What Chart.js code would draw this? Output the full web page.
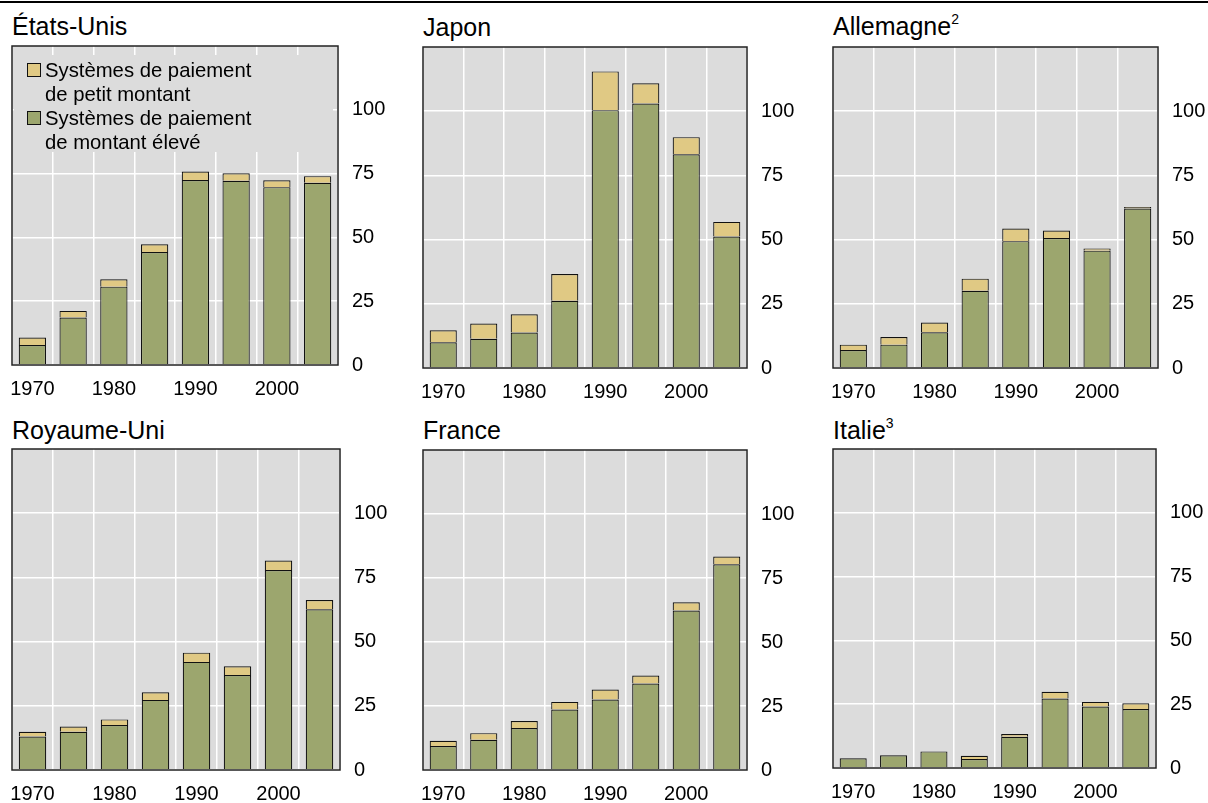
<!DOCTYPE html>
<html>
<head>
<meta charset="utf-8">
<script src="https://cdn.jsdelivr.net/npm/chart.js@4.4.0/dist/chart.umd.min.js"></script>
<style>
  html, body { margin: 0; padding: 0; background: #fff; }
  body { width: 1208px; height: 803px; position: relative; overflow: hidden;
         font-family: "Liberation Sans", Arial, sans-serif; color: #000; }
  .topline { position: absolute; left: 0; top: 1px; width: 1208px; height: 2px; background: #000; }
  .title { position: absolute; font-size: 25px; line-height: 25px; white-space: nowrap; }
  .title sup { font-size: 14px; position: relative; top: -1px; vertical-align: 10px; line-height: 0; }
  canvas { position: absolute; }
  .legbg { position: absolute; left: 14px; top: 55px; width: 319px; height: 97px; background: #dcdcdc; }
  .legend { position: absolute; left: 27px; top: 58px; font-size: 20.3px; line-height: 24px; }
  .legitem { position: relative; padding-left: 18px; white-space: nowrap; }
  .legitem .box { position: absolute; left: 0; top: 5px; width: 12px; height: 12px; border: 1px solid #111; }
</style>
</head>
<body>
<div class="topline"></div>

<script>
// ---------- data ----------
const categories = ['1970','1975','1980','1985','1990','1995','2000','2005'];
const xTickLabels = ['1970','','1980','','1990','','2000',''];
const yTicks = [0, 25, 50, 75, 100];
const yMax = 125;
const seriesNames = ['Systèmes de paiement de petit montant', 'Systèmes de paiement de montant élevé'];

const usHigh = [7.8, 18.6, 30.7, 44.3, 72.5, 72.2, 69.7, 71.4];
const usLow  = [3.0, 2.6, 2.9, 3.0, 3.3, 2.9, 2.7, 2.6];
const jpHigh = [10.0, 11.4, 13.8, 26.2, 100.4, 103.0, 83.2, 51.2];
const jpLow  = [4.7, 5.9, 7.1, 10.4, 15.1, 7.9, 6.7, 5.7];
const deHigh = [7.0, 9.1, 13.9, 30.1, 49.4, 50.6, 45.7, 62.1];
const deLow  = [2.1, 3.0, 3.8, 4.7, 4.9, 2.9, 0.8, 0.6];
const ukHigh = [13.0, 14.9, 17.5, 27.3, 42.1, 37.0, 77.9, 62.6];
const ukLow  = [1.9, 2.0, 2.2, 3.0, 3.6, 3.4, 3.7, 3.6];
const frHigh = [9.4, 11.8, 16.4, 23.6, 27.5, 33.8, 62.3, 80.4];
const frLow  = [2.0, 2.6, 2.7, 3.0, 3.9, 3.1, 3.2, 3.0];
const itHigh = [3.8, 5.0, 6.5, 3.5, 12.2, 27.2, 24.1, 23.1];
const itLow  = [null, null, null, 1.3, 1.1, 2.7, 1.8, 2.3];

// ---------- panels ----------
const panels = [
  { title: 'États-Unis', sup: '', high: usHigh, low: usLow, L: 12, R: 338, T: 46, B: 365, tTop: 14 },
  { title: 'Japon', sup: '', high: jpHigh, low: jpLow, L: 423, R: 747, T: 47, B: 368, tTop: 15 },
  { title: 'Allemagne', sup: '2', high: deHigh, low: deLow, L: 833, R: 1158, T: 47, B: 368, tTop: 14 },
  { title: 'Royaume-Uni', sup: '', high: ukHigh, low: ukLow, L: 12, R: 340, T: 449, B: 770, tTop: 418 },
  { title: 'France', sup: '', high: frHigh, low: frLow, L: 423, R: 747, T: 450, B: 770, tTop: 418 },
  { title: 'Italie', sup: '3', high: itHigh, low: itLow, L: 833, R: 1156, T: 449, B: 768, tTop: 418 }
];

const GREEN = '#9ca66e';
const YELLOW = '#e0c984';
const PLOTBG = '#dcdcdc';
const AXIS_W = 50, XAXIS_H = 40, PAD = 2;

const plotFrame = {
  id: 'plotFrame',
  beforeDraw(chart) {
    const a = chart.chartArea, c = chart.ctx;
    c.save(); c.fillStyle = PLOTBG;
    c.fillRect(a.left, a.top, a.right - a.left, a.bottom - a.top);
    c.restore();
  },
  afterDraw(chart) {
    const a = chart.chartArea, c = chart.ctx;
    c.save(); c.strokeStyle = '#222'; c.lineWidth = 1.5;
    c.strokeRect(a.left, a.top, a.right - a.left, a.bottom - a.top);
    c.restore();
  }
};

panels.forEach((p) => {
  const t = document.createElement('div');
  t.className = 'title';
  t.style.left = p.L + 'px';
  t.style.top = p.tTop + 'px';
  t.innerHTML = p.title + (p.sup ? '<sup>' + p.sup + '</sup>' : '');
  document.body.appendChild(t);

  const cv = document.createElement('canvas');
  const w = (p.R - p.L) + PAD + AXIS_W;
  const h = (p.B - p.T) + PAD + XAXIS_H;
  cv.width = w; cv.height = h;
  cv.style.width = w + 'px'; cv.style.height = h + 'px';
  cv.style.left = (p.L - PAD) + 'px';
  cv.style.top = (p.T - PAD) + 'px';
  document.body.appendChild(cv);

  new Chart(cv.getContext('2d'), {
    type: 'bar',
    data: {
      labels: categories,
      datasets: [
        { label: seriesNames[1], data: p.high, backgroundColor: GREEN, borderColor: '#111', borderWidth: 1.2,
          categoryPercentage: 1, barPercentage: 0.67 },
        { label: seriesNames[0], data: p.low, backgroundColor: YELLOW, borderColor: '#111', borderWidth: 1.2,
          categoryPercentage: 1, barPercentage: 0.67 }
      ]
    },
    options: {
      responsive: false,
      animation: false,
      devicePixelRatio: 1,
      layout: { padding: { left: PAD, top: PAD, right: 0, bottom: 0 } },
      plugins: { legend: { display: false }, tooltip: { enabled: false }, title: { display: false } },
      scales: {
        x: {
          stacked: true,
          grid: { color: '#ffffff', lineWidth: 1.5, drawTicks: false, offset: true },
          border: { display: false },
          ticks: {
            autoSkip: false, maxRotation: 0, padding: 12, color: '#000',
            font: { family: '"Liberation Sans", Arial, sans-serif', size: 20 },
            callback: (v, i) => xTickLabels[i]
          },
          afterFit(s) { s.height = XAXIS_H; s.paddingLeft = 0; s.paddingRight = 0; }
        },
        y: {
          stacked: true,
          position: 'right',
          min: 0, max: yMax,
          grid: { color: '#ffffff', lineWidth: 1.5, drawTicks: false },
          border: { display: false },
          ticks: {
            padding: 14, color: '#000',
            font: { family: '"Liberation Sans", Arial, sans-serif', size: 20 }
          },
          afterBuildTicks(s) { s.ticks = yTicks.map(v => ({ value: v })); },
          afterFit(s) { s.width = AXIS_W; s.paddingTop = 0; s.paddingBottom = 0; }
        }
      }
    },
    plugins: [plotFrame]
  });
});

// legend (inside first panel)
const lbg = document.createElement('div'); lbg.className = 'legbg'; document.body.appendChild(lbg);
const leg = document.createElement('div'); leg.className = 'legend';
leg.innerHTML =
  '<div class="legitem"><span class="box" style="background:' + YELLOW + '"></span>Systèmes de paiement<br>de petit montant</div>' +
  '<div class="legitem"><span class="box" style="background:' + GREEN + '"></span>Systèmes de paiement<br>de montant élevé</div>';
document.body.appendChild(leg);
</script>
</body>
</html>
